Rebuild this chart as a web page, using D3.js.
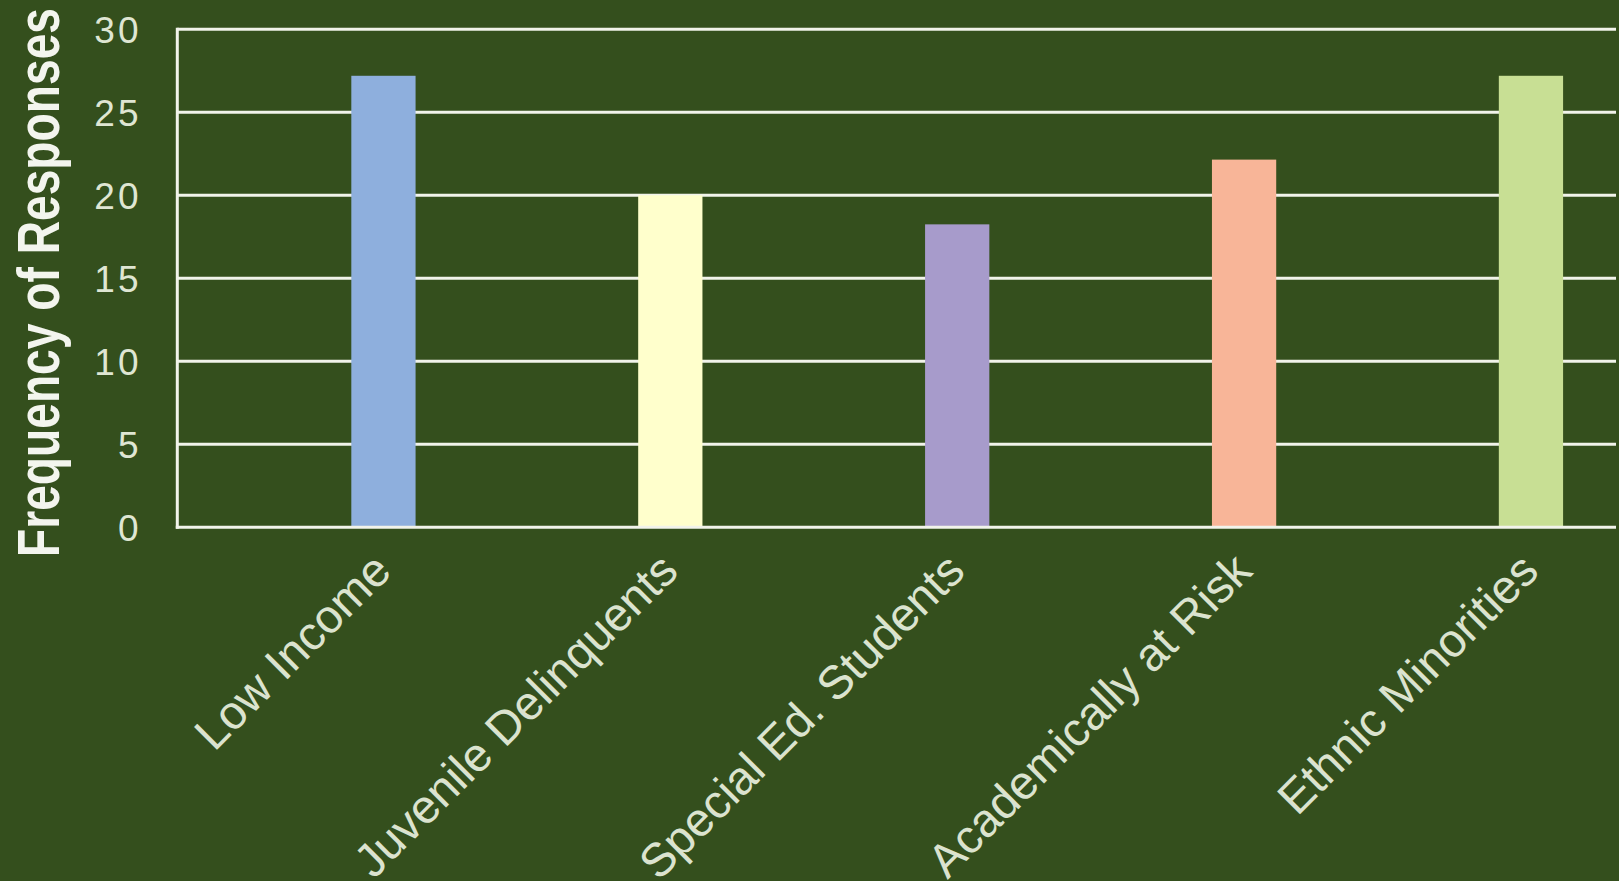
<!DOCTYPE html>
<html>
<head>
<meta charset="utf-8">
<script src="https://cdn.jsdelivr.net/npm/d3@7"></script>
<style>
  html, body { margin: 0; padding: 0; background: #344f1d; overflow: hidden; }
  svg { display: block; }
</style>
</head>
<body>
<svg id="chart" width="1619" height="881"></svg>
<script>
const categories = ["Low Income", "Juvenile Delinquents", "Special Ed. Students", "Academically at Risk", "Ethnic Minorities"];
const values = [27.2, 20.0, 18.25, 22.15, 27.2];
const barColors = ["#8eafdd", "#ffffcc", "#a79bcb", "#f8b598", "#c8df94"];
const yTicks = [0, 5, 10, 15, 20, 25, 30];
const yTitle = "Frequency of Responses";

const W = 1619, H = 881;
const svg = d3.select("#chart");
svg.append("rect").attr("width", W).attr("height", H).attr("fill", "#344f1d");

const plotLeft = 177.3, plotRight = 1616;
const y = d3.scaleLinear().domain([0, 30]).range([527.3, 29.3]);
const x = d3.scaleBand().domain(categories).range([240, 1674.4])
  .paddingInner(0.776).paddingOuter(0.388);

const lineColor = "#f1f3ea";

// gridlines
const grid = svg.append("g");
grid.selectAll("line").data(yTicks.filter(d => d > 0)).join("line")
  .attr("x1", plotLeft).attr("x2", plotRight)
  .attr("y1", d => y(d)).attr("y2", d => y(d))
  .attr("stroke", lineColor).attr("stroke-width", 3);

// bars
svg.append("g").selectAll("rect").data(categories).join("rect")
  .attr("x", d => x(d))
  .attr("width", x.bandwidth())
  .attr("y", (d, i) => y(values[i]))
  .attr("height", (d, i) => y(0) - y(values[i]))
  .attr("fill", (d, i) => barColors[i]);

// axis lines
svg.append("line").attr("x1", plotLeft).attr("x2", plotLeft)
  .attr("y1", y(30) - 1.5).attr("y2", y(0) + 1.5)
  .attr("stroke", lineColor).attr("stroke-width", 3);
svg.append("line").attr("x1", plotLeft - 1.5).attr("x2", plotRight)
  .attr("y1", y(0)).attr("y2", y(0))
  .attr("stroke", lineColor).attr("stroke-width", 3);

// y axis tick labels
const yAxis = d3.axisLeft(y).tickValues(yTicks).tickSize(0).tickPadding(0).tickFormat(d3.format("d"));
const gy = svg.append("g").attr("transform", "translate(141.5,0)").call(yAxis);
gy.select(".domain").remove();
gy.selectAll("text")
  .attr("fill", "#dfe6d3")
  .attr("font-family", "'Liberation Sans', Arial, sans-serif")
  .attr("font-size", 37)
  .attr("letter-spacing", 3)
  .attr("dy", "0.35em")
  .attr("x", 0);

// x axis labels
const xAxis = d3.axisBottom(x).tickSize(0).tickPadding(0);
const gx = svg.append("g").attr("transform", `translate(0,${y(0)})`).call(xAxis);
gx.select(".domain").remove();
gx.selectAll("text")
  .attr("fill", "#dbe3cf")
  .attr("font-family", "'Liberation Sans', Arial, sans-serif")
  .attr("font-size", 47)
  .attr("text-anchor", "end")
  .attr("x", 0).attr("y", 0).attr("dy", 0)
  .attr("transform", "translate(10,46) rotate(-45)");

// y title
svg.append("text")
  .attr("transform", "translate(58.5,282.5) rotate(-90)")
  .attr("text-anchor", "middle")
  .attr("font-family", "'Liberation Sans Narrow', 'Liberation Sans', Arial, sans-serif")
  .attr("font-weight", "bold")
  .attr("font-size", 60)
  .attr("fill", "#f3f5ee")
  .attr("textLength", 549)
  .attr("lengthAdjust", "spacingAndGlyphs")
  .text(yTitle);
</script>
</body>
</html>
